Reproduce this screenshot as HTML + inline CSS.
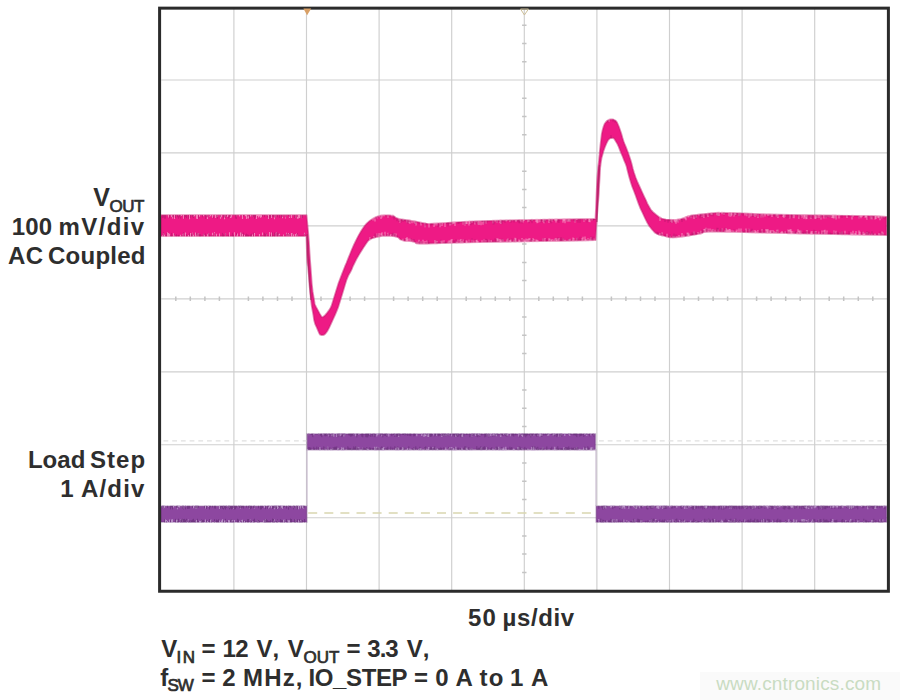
<!DOCTYPE html>
<html><head><meta charset="utf-8"><style>
html,body{margin:0;padding:0;background:#fff;width:900px;height:700px;overflow:hidden}
svg{display:block}
text{font-family:"Liberation Sans",sans-serif}
</style></head><body>
<svg width="900" height="700" viewBox="0 0 900 700">
<rect width="900" height="700" fill="#fff"/>
<rect x="700" y="672" width="200" height="28" fill="#fafafa"/>
<path d="M233.9 7.0V590.6M306.5 7.0V590.6M379.1 7.0V590.6M451.7 7.0V590.6M524.3 7.0V590.6M596.9 7.0V590.6M669.5 7.0V590.6M742.1 7.0V590.6M814.7 7.0V590.6M161.3 80.0H887.3M161.3 152.9H887.3M161.3 225.9H887.3M161.3 298.8H887.3M161.3 371.8H887.3M161.3 444.7H887.3M161.3 517.7H887.3" stroke="#cfcfcf" stroke-width="1.15" fill="none"/>
<path d="M175.8 296.6V301.0M190.3 296.6V301.0M204.9 296.6V301.0M219.4 296.6V301.0M248.4 296.6V301.0M262.9 296.6V301.0M277.5 296.6V301.0M292.0 296.6V301.0M321.0 296.6V301.0M335.5 296.6V301.0M350.1 296.6V301.0M364.6 296.6V301.0M393.6 296.6V301.0M408.1 296.6V301.0M422.7 296.6V301.0M437.2 296.6V301.0M466.2 296.6V301.0M480.7 296.6V301.0M495.3 296.6V301.0M509.8 296.6V301.0M538.8 296.6V301.0M553.3 296.6V301.0M567.9 296.6V301.0M582.4 296.6V301.0M611.4 296.6V301.0M625.9 296.6V301.0M640.5 296.6V301.0M655.0 296.6V301.0M684.0 296.6V301.0M698.5 296.6V301.0M713.1 296.6V301.0M727.6 296.6V301.0M756.6 296.6V301.0M771.1 296.6V301.0M785.7 296.6V301.0M800.2 296.6V301.0M829.2 296.6V301.0M843.7 296.6V301.0M858.3 296.6V301.0M872.8 296.6V301.0M522.1 25.3H526.5M522.1 43.5H526.5M522.1 61.8H526.5M522.1 98.2H526.5M522.1 116.5H526.5M522.1 134.7H526.5M522.1 171.2H526.5M522.1 189.4H526.5M522.1 207.6H526.5M522.1 244.1H526.5M522.1 262.4H526.5M522.1 280.6H526.5M522.1 317.1H526.5M522.1 335.3H526.5M522.1 353.5H526.5M522.1 390.0H526.5M522.1 408.2H526.5M522.1 426.5H526.5M522.1 462.9H526.5M522.1 481.2H526.5M522.1 499.4H526.5M522.1 535.9H526.5M522.1 554.1H526.5M522.1 572.4H526.5" stroke="#c4c4c4" stroke-width="1.5" fill="none"/>
<path d="M163.5 440.8H307M599 440.8H887" stroke="#e0e0e0" stroke-width="1.2" stroke-dasharray="4.8 3.9"/>
<path d="M308 513H596" stroke="#d9d6b0" stroke-width="1.3" stroke-dasharray="9 7.1" stroke-dashoffset="-0.2"/>
<path d="M161.0,215.2 L306.5,215.2 L308.0,230.8 L308.9,242.0 L309.6,254.0 L310.2,262.5 L310.6,267.5 L311.1,274.4 L311.7,283.1 L312.6,291.4 L313.9,299.1 L314.6,303.5 L314.9,304.5 L316.0,306.9 L318.0,310.6 L319.6,313.6 L320.9,315.7 L321.8,316.9 L322.5,317.2 L323.6,316.6 L325.2,315.2 L327.0,313.1 L329.0,310.4 L330.5,308.0 L331.5,306.0 L333.2,300.6 L335.8,291.9 L338.6,283.1 L341.9,274.4 L344.1,268.8 L345.1,266.2 L346.6,262.8 L348.4,258.2 L350.2,253.8 L352.0,249.3 L353.8,245.2 L355.6,241.4 L357.4,237.8 L359.1,234.6 L361.1,231.3 L363.2,228.0 L365.0,225.6 L366.3,224.0 L367.8,222.6 L369.2,221.3 L371.4,219.8 L374.3,218.0 L377.5,216.6 L381.1,215.7 L385.4,215.3 L390.5,215.5 L394.1,216.4 L396.4,218.2 L401.2,219.5 L408.8,220.5 L415.6,221.6 L421.9,222.9 L426.2,223.6 L428.8,223.9 L440.0,223.4 L460.0,222.1 L482.5,221.1 L507.5,220.4 L538.9,219.8 L595.5,219.0 L596.2,204.0 L596.6,194.2 L597.0,184.8 L597.4,177.5 L597.8,172.5 L598.2,167.5 L598.8,162.5 L599.2,158.1 L599.6,154.4 L599.9,150.6 L600.3,146.9 L600.7,143.2 L601.1,139.8 L601.5,136.6 L601.8,133.9 L602.5,130.6 L603.5,126.9 L604.6,124.1 L605.9,122.2 L607.1,120.9 L608.4,120.2 L609.6,119.6 L610.9,119.4 L612.1,119.4 L613.4,119.6 L614.6,120.2 L615.9,121.1 L616.9,122.3 L617.6,123.8 L618.8,126.5 L620.2,130.5 L621.5,134.4 L622.5,138.1 L623.5,141.2 L624.5,143.8 L625.8,146.9 L627.2,150.6 L628.5,154.0 L629.5,157.0 L630.5,160.1 L631.5,163.4 L632.2,166.2 L632.8,168.8 L633.9,172.5 L635.6,177.5 L637.6,182.5 L639.9,187.5 L642.0,192.1 L644.0,196.4 L645.8,200.1 L647.2,203.4 L648.9,206.5 L650.6,209.5 L653.0,212.2 L656.0,214.8 L658.9,216.9 L661.6,218.6 L666.0,219.6 L672.0,219.9 L676.9,219.8 L680.6,219.2 L683.9,218.2 L686.6,216.8 L692.2,215.5 L700.8,214.5 L708.8,213.6 L716.2,212.9 L735.0,213.1 L765.0,214.4 L802.5,215.2 L847.5,215.8 L874.1,216.2 L886.5,217.0 L886.5,235.0 L806.6,233.5 L765.0,232.6 L735.0,231.9 L716.2,231.5 L708.8,231.5 L704.0,232.0 L702.0,233.0 L695.8,234.4 L685.2,236.1 L677.5,237.1 L672.5,237.4 L668.8,237.1 L666.2,236.4 L662.9,235.5 L658.6,234.5 L655.5,233.0 L653.5,231.0 L651.5,228.8 L649.5,226.2 L647.4,222.8 L645.1,218.2 L642.8,213.2 L640.2,207.8 L638.4,203.1 L637.1,199.4 L635.6,195.2 L633.9,190.8 L632.2,186.4 L630.8,182.1 L629.4,177.5 L628.1,172.5 L627.2,169.0 L626.8,167.0 L625.8,164.1 L624.2,160.4 L622.9,157.0 L621.6,154.0 L620.2,150.6 L618.8,146.9 L617.5,144.1 L616.5,142.4 L615.4,140.5 L614.1,138.5 L612.4,137.8 L610.1,138.2 L608.1,140.1 L606.4,143.4 L604.9,146.9 L603.6,150.6 L602.5,154.4 L601.5,158.1 L600.8,162.5 L600.2,167.5 L599.9,172.5 L599.6,177.5 L599.2,184.8 L598.7,194.2 L597.9,204.8 L597.0,216.2 L596.2,226.5 L595.5,240.0 L561.4,240.8 L531.5,241.2 L494.5,241.8 L464.5,242.4 L441.5,243.1 L426.5,243.5 L419.5,243.5 L415.8,243.0 L415.2,242.0 L411.6,241.2 L404.9,240.8 L400.5,239.5 L398.5,237.5 L394.4,236.2 L388.1,235.7 L382.7,235.8 L378.0,236.7 L374.8,237.4 L372.9,238.0 L371.1,238.7 L369.5,239.6 L367.7,241.2 L365.9,243.8 L364.1,246.4 L362.3,249.3 L360.4,252.3 L358.5,255.4 L356.4,259.1 L354.3,263.3 L352.7,266.5 L351.8,268.9 L350.4,271.8 L348.4,275.2 L346.6,279.6 L344.9,284.9 L342.8,291.9 L340.2,300.6 L338.2,306.9 L336.8,310.6 L335.0,314.8 L333.0,319.2 L331.0,323.6 L329.0,327.9 L327.3,331.0 L325.9,333.0 L324.8,334.2 L323.9,334.8 L322.8,335.0 L321.2,335.0 L320.2,334.6 L319.6,333.9 L318.9,332.4 L317.9,330.1 L316.8,327.4 L315.2,324.1 L314.1,320.0 L313.4,315.0 L312.6,310.6 L311.9,306.9 L311.1,300.6 L310.2,291.9 L309.4,283.1 L308.8,274.4 L308.1,267.5 L307.5,262.5 L307.0,254.0 L306.5,236.0 L161.0,236.0 Z" fill="#ee1a85" stroke="#c8186e" stroke-width="1.8" stroke-opacity="0.5" stroke-linejoin="round"/>
<path d="M168.5 214.2v3.4M171.5 214.2v2.8M172.5 214.2v4.4M174.5 214.2v4.9M178.5 214.2v1.8M180.5 214.2v2.4M181.5 214.2v1.9M183.5 214.2v4.5M189.5 214.2v5.0M193.5 214.2v2.5M194.5 214.2v2.0M196.5 214.2v4.5M197.5 214.2v4.9M199.5 214.2v2.5M203.5 214.2v2.0M206.5 214.2v2.1M207.5 214.2v4.9M209.5 214.2v2.6M210.5 214.2v2.0M212.5 214.2v3.6M213.5 214.2v2.4M215.5 214.2v3.9M216.5 214.2v3.1M217.5 214.2v2.7M220.5 214.2v4.6M221.5 214.2v3.1M224.5 214.2v5.0M225.5 214.2v2.6M227.5 214.2v2.7M228.5 214.2v2.1M230.5 214.2v3.7M231.5 214.2v3.3M236.5 214.2v2.3M239.5 214.2v2.4M242.5 214.2v4.8M245.5 214.2v2.1M246.5 214.2v4.9M247.5 214.2v4.1M248.5 214.2v4.4M250.5 214.2v2.4M252.5 214.2v2.5M256.5 214.2v4.7M257.5 214.2v1.9M258.5 214.2v3.2M259.5 214.2v2.4M260.5 214.2v3.6M261.5 214.2v3.0M267.5 214.2v1.9M268.5 214.2v4.7M271.5 214.2v3.8M274.5 214.2v5.0M275.5 214.2v3.5M282.5 214.2v4.0M285.5 214.2v4.3M289.5 214.2v3.7M291.5 214.2v3.8M295.5 214.2v4.2M297.5 214.2v4.5M298.5 214.2v4.2M299.5 214.2v3.7M301.5 214.2v4.0M162.5 237.0v-1.8M163.5 237.0v-4.0M164.5 237.0v-2.3M167.5 237.0v-4.7M168.5 237.0v-3.9M169.5 237.0v-3.2M173.5 237.0v-3.7M174.5 237.0v-2.2M180.5 237.0v-2.3M182.5 237.0v-2.5M183.5 237.0v-3.8M185.5 237.0v-4.5M188.5 237.0v-1.9M190.5 237.0v-4.1M192.5 237.0v-4.3M193.5 237.0v-2.2M195.5 237.0v-4.5M196.5 237.0v-2.3M197.5 237.0v-3.8M198.5 237.0v-3.8M203.5 237.0v-3.3M204.5 237.0v-1.8M207.5 237.0v-2.7M208.5 237.0v-4.0M212.5 237.0v-4.3M214.5 237.0v-4.8M216.5 237.0v-3.3M219.5 237.0v-3.6M225.5 237.0v-4.1M229.5 237.0v-4.7M234.5 237.0v-4.7M236.5 237.0v-2.1M237.5 237.0v-3.6M240.5 237.0v-4.4M241.5 237.0v-4.4M242.5 237.0v-2.9M244.5 237.0v-2.3M252.5 237.0v-2.5M254.5 237.0v-4.1M259.5 237.0v-3.0M262.5 237.0v-4.5M266.5 237.0v-3.5M269.5 237.0v-4.9M271.5 237.0v-4.4M275.5 237.0v-3.5M276.5 237.0v-4.9M278.5 237.0v-3.3M279.5 237.0v-3.2M283.5 237.0v-2.4M286.5 237.0v-4.3M287.5 237.0v-2.4M288.5 237.0v-4.0M289.5 237.0v-2.9M291.5 237.0v-4.1M292.5 237.0v-3.4M293.5 237.0v-2.4M295.5 237.0v-3.0M296.5 237.0v-3.5M297.5 237.0v-2.5M304.5 237.0v-4.2M373.0 217.8v2.8M375.0 216.5v5.0M377.0 215.8v2.6M379.0 215.2v2.1M381.0 214.7v4.3M382.0 214.4v3.1M384.0 214.2v2.4M388.0 214.4v3.4M392.0 214.6v2.0M393.0 214.6v1.9M399.0 218.2v2.4M400.0 218.3v4.5M403.0 218.7v2.0M407.0 219.3v3.3M409.0 219.5v3.7M410.0 219.7v4.0M412.0 219.9v3.3M414.0 220.3v2.4M415.0 220.5v3.4M416.0 220.7v4.7M421.0 221.7v3.7M425.0 222.5v4.7M429.0 222.9v4.7M434.0 222.8v4.1M435.0 222.7v2.9M437.0 222.6v2.9M440.0 222.4v4.8M442.0 222.2v3.9M445.0 222.1v5.0M450.0 221.8v3.8M452.0 221.6v3.1M453.0 221.6v2.4M454.0 221.5v2.1M455.0 221.4v4.7M463.0 220.9v3.7M465.0 220.8v4.8M466.0 220.8v3.3M467.0 220.7v3.4M469.0 220.6v4.8M470.0 220.5v3.5M472.0 220.4v2.7M475.0 220.3v4.1M476.0 220.3v1.8M477.0 220.3v1.9M478.0 220.3v4.2M479.0 220.2v4.7M481.0 220.2v5.0M483.0 220.1v4.7M484.0 220.1v3.3M486.0 220.0v3.5M493.0 219.8v3.8M495.0 219.8v2.0M497.0 219.7v3.2M500.0 219.6v3.7M501.0 219.6v4.3M506.0 219.4v2.2M510.0 219.3v2.7M516.0 219.1v2.6M520.0 219.0v2.0M521.0 219.0v3.2M523.0 219.0v3.5M524.0 218.9v2.1M528.0 218.9v3.3M529.0 218.9v2.9M532.0 218.8v2.2M536.0 218.8v3.2M537.0 218.8v4.4M538.0 218.8v3.9M540.0 218.7v3.6M543.0 218.7v3.0M544.0 218.7v4.6M545.0 218.7v2.1M549.0 218.6v4.3M550.0 218.6v2.5M552.0 218.6v2.8M555.0 218.5v2.3M556.0 218.5v4.1M557.0 218.5v2.2M563.0 218.4v4.4M564.0 218.4v2.8M565.0 218.4v4.8M567.0 218.4v3.0M568.0 218.4v3.0M569.0 218.4v3.0M570.0 218.3v3.6M575.0 218.3v4.2M577.0 218.2v1.9M584.0 218.2v3.5M586.0 218.1v2.1M589.0 218.1v3.8M590.0 218.1v4.2M592.0 218.0v2.5M609.0 118.8v2.9M660.0 216.6v4.4M671.0 218.8v3.1M672.0 218.9v4.2M674.0 219.0v2.3M675.0 219.0v3.2M676.0 218.9v4.9M677.0 218.7v2.8M678.0 218.6v3.9M680.0 218.3v2.0M684.0 217.2v2.1M685.0 216.6v2.5M686.0 216.1v4.1M688.0 215.0v2.4M689.0 214.9v2.4M691.0 214.6v3.6M694.0 214.3v4.6M696.0 214.1v3.6M699.0 213.7v2.0M702.0 213.4v3.5M704.0 213.1v5.0M706.0 212.9v1.8M708.0 212.7v4.3M711.0 212.4v2.3M712.0 212.3v2.6M717.0 211.8v3.5M718.0 211.7v4.3M719.0 211.6v4.4M722.0 211.6v2.7M724.0 211.7v3.3M729.0 211.9v4.3M730.0 211.9v4.7M731.0 212.0v4.4M732.0 212.0v3.5M734.0 212.1v4.5M735.0 212.1v2.8M736.0 212.2v2.8M739.0 212.3v4.0M740.0 212.3v3.1M745.0 212.5v3.0M747.0 212.6v3.6M749.0 212.7v5.0M751.0 212.8v3.8M752.0 212.8v3.0M754.0 212.9v2.9M755.0 213.0v3.9M756.0 213.0v2.4M758.0 213.1v4.8M761.0 213.2v4.4M762.0 213.2v2.3M763.0 213.3v4.0M765.0 213.4v3.1M768.0 213.5v2.5M769.0 213.5v2.2M770.0 213.6v2.0M772.0 213.7v3.4M776.0 213.8v2.9M777.0 213.9v1.8M778.0 213.9v4.0M783.0 214.0v2.9M784.0 214.0v3.9M785.0 214.1v3.0M790.0 214.1v4.3M793.0 214.1v3.4M794.0 214.2v4.1M799.0 214.2v4.8M801.0 214.2v2.1M802.0 214.2v3.6M804.0 214.3v4.8M805.0 214.3v3.3M806.0 214.3v4.9M807.0 214.3v4.7M811.0 214.3v4.7M815.0 214.4v4.4M816.0 214.4v4.7M817.0 214.4v3.6M819.0 214.4v3.6M820.0 214.4v1.9M821.0 214.5v5.0M824.0 214.5v3.9M826.0 214.5v3.7M828.0 214.5v2.4M830.0 214.6v3.0M832.0 214.6v3.5M833.0 214.6v3.6M834.0 214.6v3.9M835.0 214.6v3.9M836.0 214.6v4.9M839.0 214.7v3.8M847.0 214.7v3.2M852.0 214.8v4.7M853.0 214.8v2.0M859.0 214.9v3.7M860.0 214.9v2.2M861.0 214.9v3.4M862.0 214.9v2.0M865.0 214.9v2.8M866.0 215.0v2.6M867.0 215.0v4.7M871.0 215.1v4.4M872.0 215.1v4.2M875.0 215.3v4.3M876.0 215.4v3.5M878.0 215.5v2.6M879.0 215.5v2.8M880.0 215.6v4.7M882.0 215.7v2.9M884.0 215.8v1.9M370.0 240.3v-3.4M374.0 238.7v-2.7M377.0 237.9v-4.5M378.0 237.7v-3.3M379.0 237.5v-4.6M381.0 237.1v-3.8M382.0 236.9v-4.6M383.0 236.8v-2.1M385.0 236.4v-4.7M388.0 236.7v-4.0M390.0 236.8v-2.1M391.0 236.9v-2.8M393.0 237.1v-2.4M394.0 237.2v-3.9M396.0 237.4v-3.9M403.0 241.6v-2.8M406.0 241.8v-3.8M407.0 241.9v-4.9M408.0 242.0v-3.5M410.0 242.1v-3.7M411.0 242.2v-2.6M413.0 242.4v-2.7M417.0 244.5v-2.7M419.0 244.5v-4.7M421.0 244.5v-3.3M423.0 244.5v-4.8M425.0 244.5v-3.6M427.0 244.5v-3.9M435.0 244.3v-4.3M436.0 244.3v-3.7M437.0 244.3v-3.2M441.0 244.1v-3.4M442.0 244.1v-3.7M444.0 244.0v-3.7M448.0 243.9v-2.3M449.0 243.9v-3.4M450.0 243.8v-3.2M451.0 243.8v-4.4M452.0 243.8v-4.7M456.0 243.7v-2.3M457.0 243.6v-1.9M458.0 243.6v-3.8M460.0 243.5v-3.7M461.0 243.5v-4.4M462.0 243.5v-2.6M463.0 243.4v-4.0M466.0 243.3v-3.1M467.0 243.3v-2.5M469.0 243.2v-3.4M472.0 243.1v-3.3M474.0 243.1v-2.6M476.0 243.0v-3.1M477.0 243.0v-3.2M478.0 243.0v-1.9M482.0 242.9v-2.6M484.0 242.9v-3.3M486.0 242.9v-2.9M489.0 242.8v-3.1M491.0 242.8v-2.9M497.0 242.7v-4.5M498.0 242.7v-4.3M499.0 242.7v-2.9M500.0 242.7v-3.6M501.0 242.7v-2.5M502.0 242.6v-3.3M503.0 242.6v-3.2M507.0 242.6v-3.0M508.0 242.6v-4.0M509.0 242.6v-2.7M510.0 242.5v-2.4M511.0 242.5v-3.1M514.0 242.5v-3.0M515.0 242.5v-4.8M516.0 242.5v-4.3M519.0 242.4v-2.8M520.0 242.4v-2.1M522.0 242.4v-4.3M524.0 242.4v-3.1M525.0 242.3v-1.9M526.0 242.3v-3.7M527.0 242.3v-2.8M528.0 242.3v-3.5M529.0 242.3v-4.1M530.0 242.3v-4.1M532.0 242.2v-2.5M533.0 242.2v-4.1M534.0 242.2v-3.0M536.0 242.2v-2.7M537.0 242.2v-2.5M538.0 242.2v-1.9M543.0 242.1v-3.9M545.0 242.1v-4.0M549.0 242.0v-3.8M550.0 242.0v-3.2M551.0 242.0v-2.0M552.0 242.0v-2.9M554.0 241.9v-2.3M555.0 241.9v-3.3M556.0 241.9v-3.9M557.0 241.8v-2.1M558.0 241.8v-3.2M559.0 241.8v-3.7M563.0 241.7v-3.1M564.0 241.7v-2.0M565.0 241.7v-2.0M569.0 241.6v-2.6M570.0 241.6v-2.9M573.0 241.5v-3.9M574.0 241.5v-3.3M577.0 241.4v-3.6M582.0 241.3v-3.1M583.0 241.3v-4.5M585.0 241.2v-4.7M586.0 241.2v-2.2M588.0 241.2v-3.0M590.0 241.1v-2.4M591.0 241.1v-4.0M592.0 241.1v-1.8M594.0 241.0v-2.6M660.0 235.8v-2.9M662.0 236.3v-4.1M667.0 237.6v-3.8M670.0 238.5v-2.7M673.0 238.3v-2.6M674.0 238.3v-2.4M676.0 238.2v-2.0M677.0 238.2v-2.1M679.0 238.1v-3.2M682.0 237.7v-4.6M684.0 237.3v-2.6M687.0 236.8v-4.1M688.0 236.7v-4.1M689.0 236.5v-2.9M694.0 235.7v-4.1M698.0 235.0v-3.0M700.0 234.7v-2.4M701.0 234.5v-3.7M704.0 233.0v-4.0M705.0 232.5v-3.8M706.0 232.5v-4.8M708.0 232.5v-4.1M709.0 232.5v-1.9M710.0 232.5v-4.1M712.0 232.5v-2.9M713.0 232.5v-3.5M715.0 232.5v-2.8M718.0 232.5v-3.1M722.0 232.6v-4.0M725.0 232.6v-2.4M726.0 232.7v-4.8M727.0 232.7v-3.4M728.0 232.7v-2.8M729.0 232.7v-3.6M730.0 232.8v-3.8M731.0 232.8v-2.5M733.0 232.8v-2.6M734.0 232.8v-2.0M736.0 232.9v-2.1M737.0 232.9v-3.3M739.0 233.0v-4.6M741.0 233.0v-4.4M742.0 233.1v-2.0M746.0 233.2v-4.8M749.0 233.2v-4.5M751.0 233.3v-1.9M752.0 233.3v-2.2M753.0 233.3v-2.9M755.0 233.4v-3.4M756.0 233.4v-2.5M758.0 233.4v-3.5M762.0 233.6v-4.4M766.0 233.7v-4.8M767.0 233.7v-4.1M768.0 233.7v-4.7M769.0 233.7v-3.6M770.0 233.8v-3.0M771.0 233.8v-3.9M773.0 233.8v-3.8M774.0 233.8v-2.7M776.0 233.9v-2.1M777.0 233.9v-4.2M778.0 233.9v-4.2M781.0 234.0v-2.1M782.0 234.0v-2.9M783.0 234.1v-1.8M785.0 234.1v-2.8M788.0 234.2v-4.6M789.0 234.2v-4.2M790.0 234.2v-5.0M791.0 234.2v-4.9M792.0 234.2v-3.1M794.0 234.3v-2.7M797.0 234.3v-2.4M798.0 234.3v-5.0M799.0 234.4v-3.8M800.0 234.4v-3.9M801.0 234.4v-3.8M807.0 234.5v-4.5M811.0 234.6v-3.0M812.0 234.6v-3.7M815.0 234.7v-3.8M816.0 234.7v-3.7M819.0 234.7v-3.3M822.0 234.8v-4.2M824.0 234.8v-4.6M825.0 234.8v-5.0M827.0 234.9v-4.5M834.0 235.0v-4.6M836.0 235.1v-4.4M840.0 235.1v-2.7M842.0 235.2v-3.6M845.0 235.2v-4.4M851.0 235.3v-3.0M852.0 235.4v-1.9M853.0 235.4v-4.6M855.0 235.4v-2.4M856.0 235.4v-4.5M859.0 235.5v-5.0M860.0 235.5v-3.8M863.0 235.6v-3.9M864.0 235.6v-1.8M865.0 235.6v-2.8M867.0 235.6v-3.7M869.0 235.7v-2.2M872.0 235.7v-2.2M875.0 235.8v-2.4M879.0 235.9v-2.8M880.0 235.9v-2.3M882.0 235.9v-4.4M883.0 235.9v-3.3" stroke="#f7a6cc" stroke-width="1.1" fill="none" opacity="0.7"/>
<path d="M162.5 215.0v3.1M163.5 215.0v2.7M164.5 215.0v3.6M165.5 215.0v3.6M169.5 215.0v3.2M172.5 215.0v2.3M173.5 215.0v2.3M175.5 215.0v3.1M177.5 215.0v2.2M178.5 215.0v3.7M179.5 215.0v2.3M180.5 215.0v3.5M184.5 215.0v3.7M185.5 215.0v2.1M186.5 215.0v3.2M188.5 215.0v3.7M190.5 215.0v2.9M192.5 215.0v2.4M193.5 215.0v3.0M198.5 215.0v3.5M202.5 215.0v2.4M205.5 215.0v4.0M206.5 215.0v2.1M207.5 215.0v2.2M209.5 215.0v1.5M213.5 215.0v3.4M216.5 215.0v2.4M217.5 215.0v3.6M220.5 215.0v2.1M223.5 215.0v3.4M224.5 215.0v2.5M225.5 215.0v2.7M226.5 215.0v1.3M228.5 215.0v3.3M229.5 215.0v2.2M230.5 215.0v1.7M235.5 215.0v3.6M236.5 215.0v3.9M243.5 215.0v1.5M247.5 215.0v2.6M248.5 215.0v1.3M249.5 215.0v3.9M252.5 215.0v2.2M253.5 215.0v1.8M254.5 215.0v3.8M255.5 215.0v2.5M262.5 215.0v1.9M264.5 215.0v2.1M267.5 215.0v2.3M269.5 215.0v3.5M270.5 215.0v2.6M272.5 215.0v1.7M273.5 215.0v2.1M274.5 215.0v2.5M275.5 215.0v3.2M277.5 215.0v2.2M279.5 215.0v2.8M281.5 215.0v2.8M282.5 215.0v1.9M285.5 215.0v2.5M288.5 215.0v1.3M289.5 215.0v1.8M294.5 215.0v3.0M295.5 215.0v4.0M297.5 215.0v2.0M301.5 215.0v3.3M302.5 215.0v2.9M163.5 236.2v-3.8M166.5 236.2v-3.2M171.5 236.2v-3.3M174.5 236.2v-2.3M176.5 236.2v-2.0M178.5 236.2v-1.3M182.5 236.2v-1.4M183.5 236.2v-3.9M186.5 236.2v-2.2M189.5 236.2v-3.6M191.5 236.2v-2.3M192.5 236.2v-3.0M196.5 236.2v-3.3M197.5 236.2v-3.2M198.5 236.2v-2.8M199.5 236.2v-2.0M200.5 236.2v-2.0M203.5 236.2v-2.7M205.5 236.2v-2.8M208.5 236.2v-3.1M209.5 236.2v-1.8M212.5 236.2v-1.2M214.5 236.2v-3.1M222.5 236.2v-3.3M223.5 236.2v-1.9M225.5 236.2v-3.1M228.5 236.2v-1.5M232.5 236.2v-3.4M233.5 236.2v-1.6M236.5 236.2v-3.3M241.5 236.2v-3.9M243.5 236.2v-3.6M245.5 236.2v-1.7M246.5 236.2v-2.6M247.5 236.2v-1.9M248.5 236.2v-1.4M250.5 236.2v-1.9M251.5 236.2v-2.5M253.5 236.2v-3.6M262.5 236.2v-1.2M264.5 236.2v-3.4M265.5 236.2v-2.4M266.5 236.2v-3.2M270.5 236.2v-1.7M272.5 236.2v-3.8M274.5 236.2v-3.7M275.5 236.2v-2.7M276.5 236.2v-4.0M277.5 236.2v-3.6M278.5 236.2v-3.0M279.5 236.2v-1.1M286.5 236.2v-2.6M287.5 236.2v-2.6M288.5 236.2v-2.5M289.5 236.2v-3.1M292.5 236.2v-2.5M296.5 236.2v-1.9M297.5 236.2v-3.1M304.5 236.2v-2.5M376.0 216.8v2.6M378.0 216.3v1.3M381.0 215.5v1.1M388.0 215.2v1.2M393.0 215.4v2.0M394.0 216.2v3.3M397.0 218.4v2.8M399.0 219.0v3.0M401.0 219.3v3.6M402.0 219.4v1.4M403.0 219.5v2.4M405.0 219.8v1.7M407.0 220.1v2.6M408.0 220.2v3.6M409.0 220.3v1.7M410.0 220.5v2.0M415.0 221.3v3.3M416.0 221.5v1.7M419.0 222.1v2.1M422.0 222.7v1.4M425.0 223.3v3.4M426.0 223.4v1.9M431.0 223.7v2.5M432.0 223.7v1.2M434.0 223.6v1.6M438.0 223.3v3.8M439.0 223.2v3.1M441.0 223.1v1.4M447.0 222.7v1.4M448.0 222.7v3.8M449.0 222.6v1.6M450.0 222.6v1.1M451.0 222.5v1.5M452.0 222.4v2.6M458.0 222.1v1.7M459.0 222.0v1.9M463.0 221.7v2.0M465.0 221.6v3.4M471.0 221.3v3.8M473.0 221.2v3.3M475.0 221.2v1.5M476.0 221.1v3.2M477.0 221.1v1.1M478.0 221.1v3.4M482.0 220.9v1.0M483.0 220.9v1.1M484.0 220.9v2.9M485.0 220.9v2.4M487.0 220.8v2.1M493.0 220.6v3.7M494.0 220.6v3.8M497.0 220.5v2.5M499.0 220.4v1.5M501.0 220.4v2.8M502.0 220.3v3.8M503.0 220.3v1.3M505.0 220.2v2.7M509.0 220.1v1.0M511.0 220.1v2.7M514.0 220.0v2.5M518.0 219.9v2.3M519.0 219.8v3.4M520.0 219.8v3.5M522.0 219.8v3.7M529.0 219.7v3.5M531.0 219.7v1.6M532.0 219.6v3.5M541.0 219.5v3.4M542.0 219.5v1.7M544.0 219.5v2.5M545.0 219.5v3.4M550.0 219.4v3.0M551.0 219.4v3.9M553.0 219.4v1.6M558.0 219.3v3.2M559.0 219.3v3.6M567.0 219.2v2.1M568.0 219.2v1.5M570.0 219.1v3.0M574.0 219.1v1.8M575.0 219.1v2.9M578.0 219.0v3.8M580.0 219.0v3.9M584.0 219.0v1.8M587.0 218.9v3.6M591.0 218.9v1.6M593.0 218.8v2.0M594.0 218.8v1.2M608.0 120.2v2.6M613.0 119.4v2.4M615.0 120.3v2.3M665.0 219.4v2.6M668.0 219.5v3.3M669.0 219.6v1.5M671.0 219.6v3.2M673.0 219.7v3.3M678.0 219.4v2.4M681.0 219.0v1.2M682.0 218.9v3.1M684.0 218.0v2.3M691.0 215.4v3.1M692.0 215.3v1.2M694.0 215.1v1.2M695.0 215.0v2.4M696.0 214.9v3.9M700.0 214.4v4.0M701.0 214.3v1.9M702.0 214.2v3.6M705.0 213.8v3.7M706.0 213.7v3.4M709.0 213.4v2.3M711.0 213.2v2.9M713.0 213.0v3.3M718.0 212.5v3.7M724.0 212.5v3.2M730.0 212.7v3.3M733.0 212.8v3.1M734.0 212.9v2.2M736.0 213.0v2.8M737.0 213.0v2.2M739.0 213.1v3.7M740.0 213.1v2.7M743.0 213.3v2.8M748.0 213.5v3.1M752.0 213.6v3.3M753.0 213.7v3.2M755.0 213.8v2.7M758.0 213.9v2.9M761.0 214.0v3.4M763.0 214.1v2.8M769.0 214.3v3.3M770.0 214.4v1.9M774.0 214.6v1.8M775.0 214.6v2.6M776.0 214.6v2.1M778.0 214.7v1.9M781.0 214.8v1.5M782.0 214.8v1.3M785.0 214.9v2.5M787.0 214.9v3.5M789.0 214.9v3.1M791.0 214.9v3.6M792.0 214.9v2.4M793.0 214.9v2.3M798.0 215.0v1.7M800.0 215.0v3.9M801.0 215.0v2.3M806.0 215.1v2.1M808.0 215.1v3.6M810.0 215.1v2.1M811.0 215.1v3.2M812.0 215.2v3.1M813.0 215.2v3.5M816.0 215.2v1.1M817.0 215.2v4.0M820.0 215.2v1.3M821.0 215.3v3.1M822.0 215.3v1.8M825.0 215.3v2.4M826.0 215.3v2.7M827.0 215.3v2.1M828.0 215.3v1.9M829.0 215.3v1.0M830.0 215.4v2.8M831.0 215.4v1.3M835.0 215.4v3.7M842.0 215.5v2.5M848.0 215.6v1.1M849.0 215.6v1.1M852.0 215.6v1.6M859.0 215.7v2.7M864.0 215.7v1.7M868.0 215.8v3.6M871.0 215.9v4.0M872.0 215.9v1.4M873.0 216.0v2.9M874.0 216.0v2.7M880.0 216.4v2.4M883.0 216.6v2.3M885.0 216.7v2.7M371.0 239.0v-1.7M373.0 238.2v-1.2M375.0 237.5v-3.9M377.0 237.1v-2.9M378.0 236.9v-3.4M381.0 236.3v-1.1M383.0 236.0v-1.6M384.0 235.8v-1.5M387.0 235.8v-1.8M389.0 236.0v-2.9M392.0 236.2v-2.7M393.0 236.3v-3.5M394.0 236.4v-3.1M395.0 236.5v-2.5M397.0 236.7v-1.8M404.0 240.9v-1.6M405.0 241.0v-1.9M411.0 241.4v-3.2M413.0 241.6v-2.5M414.0 241.6v-2.6M417.0 243.7v-1.1M419.0 243.7v-2.0M420.0 243.7v-2.8M422.0 243.7v-2.5M426.0 243.7v-1.6M428.0 243.7v-3.6M429.0 243.7v-1.6M436.0 243.5v-3.5M437.0 243.5v-1.5M438.0 243.4v-1.1M440.0 243.4v-1.3M441.0 243.3v-3.5M444.0 243.2v-1.3M445.0 243.2v-1.6M446.0 243.2v-1.6M448.0 243.1v-1.5M450.0 243.0v-1.4M453.0 242.9v-2.4M454.0 242.9v-2.8M455.0 242.9v-2.0M456.0 242.9v-3.7M458.0 242.8v-2.6M460.0 242.7v-2.2M462.0 242.7v-3.1M464.0 242.6v-1.9M465.0 242.6v-3.3M469.0 242.4v-2.2M472.0 242.3v-3.9M475.0 242.2v-2.8M484.0 242.1v-2.2M486.0 242.1v-3.3M487.0 242.1v-2.9M488.0 242.0v-2.0M490.0 242.0v-2.3M493.0 242.0v-2.1M495.0 241.9v-3.5M496.0 241.9v-2.7M497.0 241.9v-1.0M498.0 241.9v-1.0M499.0 241.9v-1.8M502.0 241.8v-3.1M503.0 241.8v-2.4M508.0 241.8v-2.2M509.0 241.8v-3.2M512.0 241.7v-3.3M514.0 241.7v-2.8M515.0 241.7v-1.1M517.0 241.6v-3.2M521.0 241.6v-1.3M522.0 241.6v-2.4M527.0 241.5v-1.3M529.0 241.5v-1.7M530.0 241.5v-1.5M531.0 241.5v-2.6M532.0 241.4v-2.8M534.0 241.4v-1.4M543.0 241.3v-3.3M546.0 241.3v-2.4M547.0 241.2v-2.8M550.0 241.2v-1.4M555.0 241.1v-2.4M558.0 241.0v-3.8M560.0 241.0v-2.4M561.0 241.0v-4.0M562.0 240.9v-2.2M563.0 240.9v-3.0M564.0 240.9v-1.4M569.0 240.8v-2.1M571.0 240.7v-1.0M574.0 240.7v-1.4M577.0 240.6v-3.0M578.0 240.6v-2.3M580.0 240.5v-3.8M581.0 240.5v-1.4M583.0 240.5v-1.1M588.0 240.4v-1.1M591.0 240.3v-3.8M592.0 240.3v-2.9M593.0 240.3v-3.8M611.0 138.3v-3.2M657.0 234.3v-2.5M658.0 234.6v-2.6M661.0 235.3v-2.7M662.0 235.5v-1.5M665.0 236.2v-2.3M669.0 237.4v-1.3M670.0 237.7v-3.5M673.0 237.5v-2.1M674.0 237.5v-3.9M676.0 237.4v-3.1M685.0 236.4v-2.2M686.0 236.2v-2.9M687.0 236.0v-2.1M692.0 235.2v-2.9M693.0 235.0v-1.9M694.0 234.9v-3.4M696.0 234.5v-2.1M697.0 234.4v-1.4M700.0 233.9v-1.8M702.0 233.2v-3.6M703.0 232.7v-2.4M704.0 232.2v-1.9M706.0 231.7v-3.2M707.0 231.7v-2.9M709.0 231.7v-1.6M710.0 231.7v-1.2M713.0 231.7v-2.4M715.0 231.7v-1.1M717.0 231.7v-3.9M718.0 231.7v-3.8M721.0 231.7v-3.4M722.0 231.8v-2.7M723.0 231.8v-1.3M725.0 231.8v-4.0M734.0 232.0v-2.6M742.0 232.2v-1.4M743.0 232.3v-1.5M745.0 232.3v-2.3M748.0 232.4v-3.3M749.0 232.4v-3.5M751.0 232.5v-2.6M752.0 232.5v-3.7M753.0 232.5v-1.8M759.0 232.7v-2.4M760.0 232.7v-3.0M761.0 232.7v-1.4M762.0 232.8v-2.6M764.0 232.8v-4.0M766.0 232.8v-1.5M769.0 232.9v-3.3M772.0 233.0v-1.4M773.0 233.0v-1.7M777.0 233.1v-2.1M778.0 233.1v-2.9M784.0 233.3v-2.4M787.0 233.3v-2.7M788.0 233.4v-1.1M789.0 233.4v-2.1M790.0 233.4v-1.2M794.0 233.5v-2.0M795.0 233.5v-1.9M796.0 233.5v-2.8M798.0 233.5v-1.5M799.0 233.6v-1.0M801.0 233.6v-3.2M803.0 233.6v-1.6M804.0 233.7v-3.3M806.0 233.7v-2.4M807.0 233.7v-2.4M809.0 233.7v-3.4M814.0 233.8v-4.0M815.0 233.9v-3.4M816.0 233.9v-1.9M820.0 234.0v-3.7M823.0 234.0v-1.9M824.0 234.0v-2.3M828.0 234.1v-1.7M830.0 234.1v-1.7M831.0 234.2v-1.2M834.0 234.2v-2.7M835.0 234.2v-1.1M837.0 234.3v-2.5M838.0 234.3v-1.8M839.0 234.3v-1.9M840.0 234.3v-1.3M841.0 234.3v-2.4M842.0 234.4v-3.6M843.0 234.4v-2.3M845.0 234.4v-1.3M849.0 234.5v-3.3M862.0 234.7v-3.3M866.0 234.8v-2.4M867.0 234.8v-3.8M868.0 234.9v-2.7M869.0 234.9v-3.3M872.0 234.9v-3.7M873.0 234.9v-1.7M877.0 235.0v-1.2M880.0 235.1v-3.8M882.0 235.1v-2.4M883.0 235.1v-1.3" stroke="#b0186a" stroke-width="1" fill="none" opacity="0.55"/>
<path d="M307.2,234 L308.2,260 L309.4,280 L311,300" stroke="#a82a62" stroke-width="1.3" fill="none" opacity="0.8"/>
<path d="M596.8,222 L598,190 L599.5,165" stroke="#a82a62" stroke-width="1.3" fill="none" opacity="0.8"/>
<path d="M161,506.2 H306.7 V522.0 H161 Z M307.3,434.0 H595.3 V449.6 H307.3 Z M596.3,506.2 H886.5 V522.0 H596.3 Z" fill="#8d47a0" stroke="#6e3580" stroke-width="1.6" stroke-opacity="0.45"/>
<path d="M162.5 505.2v2.8M163.5 505.2v3.3M164.5 505.2v2.5M173.5 505.2v2.3M177.5 505.2v4.0M178.5 505.2v1.8M179.5 505.2v2.3M182.5 505.2v2.3M183.5 505.2v3.5M185.5 505.2v2.0M193.5 505.2v3.0M195.5 505.2v3.2M196.5 505.2v3.9M197.5 505.2v2.3M205.5 505.2v3.4M208.5 505.2v1.9M219.5 505.2v3.8M223.5 505.2v2.8M226.5 505.2v1.8M228.5 505.2v2.3M229.5 505.2v2.7M233.5 505.2v3.7M238.5 505.2v2.0M240.5 505.2v3.3M249.5 505.2v3.2M254.5 505.2v3.6M264.5 505.2v2.5M268.5 505.2v3.3M269.5 505.2v2.5M271.5 505.2v3.1M274.5 505.2v4.0M275.5 505.2v3.0M276.5 505.2v1.8M277.5 505.2v3.8M278.5 505.2v2.9M280.5 505.2v3.0M281.5 505.2v2.6M282.5 505.2v3.6M288.5 505.2v2.1M293.5 505.2v3.0M296.5 505.2v3.9M298.5 505.2v4.0M300.5 505.2v3.3M301.5 505.2v2.3M302.5 505.2v3.1M303.5 505.2v3.3M165.5 523.0v-3.6M166.5 523.0v-3.1M167.5 523.0v-2.0M169.5 523.0v-3.4M171.5 523.0v-3.5M172.5 523.0v-3.8M176.5 523.0v-3.3M177.5 523.0v-3.0M180.5 523.0v-3.4M182.5 523.0v-3.5M186.5 523.0v-2.4M188.5 523.0v-3.5M190.5 523.0v-1.8M195.5 523.0v-2.2M196.5 523.0v-3.1M199.5 523.0v-2.3M200.5 523.0v-2.1M201.5 523.0v-2.9M205.5 523.0v-3.6M207.5 523.0v-1.9M210.5 523.0v-3.3M211.5 523.0v-3.3M214.5 523.0v-2.1M219.5 523.0v-2.6M221.5 523.0v-2.4M222.5 523.0v-3.7M224.5 523.0v-2.6M225.5 523.0v-2.8M228.5 523.0v-3.0M229.5 523.0v-2.8M231.5 523.0v-3.6M232.5 523.0v-2.7M234.5 523.0v-3.0M239.5 523.0v-2.2M241.5 523.0v-3.0M242.5 523.0v-3.3M244.5 523.0v-2.1M250.5 523.0v-3.4M252.5 523.0v-1.8M253.5 523.0v-2.0M257.5 523.0v-3.2M258.5 523.0v-2.1M263.5 523.0v-2.5M264.5 523.0v-2.9M265.5 523.0v-3.7M273.5 523.0v-2.6M274.5 523.0v-3.5M277.5 523.0v-2.7M283.5 523.0v-3.2M284.5 523.0v-3.3M287.5 523.0v-3.1M288.5 523.0v-2.8M289.5 523.0v-2.7M295.5 523.0v-3.5M298.5 523.0v-2.8M299.5 523.0v-2.1M300.5 523.0v-2.7M301.5 523.0v-3.6M308.8 433.0v2.4M313.8 433.0v2.2M318.8 433.0v1.9M322.8 433.0v2.3M323.8 433.0v1.9M326.8 433.0v1.8M328.8 433.0v3.2M331.8 433.0v3.1M332.8 433.0v3.5M333.8 433.0v3.7M336.8 433.0v3.9M338.8 433.0v3.2M339.8 433.0v2.0M340.8 433.0v3.1M341.8 433.0v2.0M343.8 433.0v3.5M344.8 433.0v2.6M353.8 433.0v2.6M355.8 433.0v3.2M358.8 433.0v1.9M369.8 433.0v2.1M373.8 433.0v3.1M376.8 433.0v3.5M377.8 433.0v2.3M378.8 433.0v2.2M379.8 433.0v2.0M381.8 433.0v3.2M386.8 433.0v2.8M388.8 433.0v3.4M394.8 433.0v2.6M398.8 433.0v3.9M404.8 433.0v1.8M416.8 433.0v3.3M421.8 433.0v2.9M423.8 433.0v3.8M424.8 433.0v3.4M425.8 433.0v2.9M427.8 433.0v3.7M428.8 433.0v4.0M433.8 433.0v2.6M436.8 433.0v3.0M441.8 433.0v3.9M443.8 433.0v3.0M445.8 433.0v3.2M447.8 433.0v2.2M448.8 433.0v2.8M451.8 433.0v3.2M455.8 433.0v3.9M457.8 433.0v2.4M461.8 433.0v3.7M462.8 433.0v3.7M471.8 433.0v4.0M472.8 433.0v1.9M474.8 433.0v1.9M475.8 433.0v2.9M477.8 433.0v2.2M478.8 433.0v1.9M479.8 433.0v2.9M486.8 433.0v2.6M488.8 433.0v3.8M490.8 433.0v2.9M492.8 433.0v3.1M493.8 433.0v2.3M494.8 433.0v2.9M496.8 433.0v3.3M500.8 433.0v4.0M503.8 433.0v2.0M505.8 433.0v1.9M506.8 433.0v3.0M507.8 433.0v2.4M510.8 433.0v3.3M518.8 433.0v3.5M519.8 433.0v2.1M521.8 433.0v3.0M522.8 433.0v3.9M530.8 433.0v3.2M533.8 433.0v3.0M537.8 433.0v2.9M539.8 433.0v3.4M540.8 433.0v2.7M541.8 433.0v3.1M547.8 433.0v2.9M548.8 433.0v2.5M552.8 433.0v3.2M553.8 433.0v2.3M554.8 433.0v1.9M558.8 433.0v3.4M560.8 433.0v3.5M561.8 433.0v2.3M564.8 433.0v2.9M568.8 433.0v1.9M569.8 433.0v3.0M584.8 433.0v2.0M586.8 433.0v3.1M590.8 433.0v2.5M593.8 433.0v2.5M319.8 450.6v-3.6M324.8 450.6v-2.4M327.8 450.6v-3.8M330.8 450.6v-1.8M332.8 450.6v-2.5M337.8 450.6v-2.9M338.8 450.6v-2.6M341.8 450.6v-3.3M342.8 450.6v-2.4M343.8 450.6v-3.1M351.8 450.6v-2.4M356.8 450.6v-3.9M358.8 450.6v-3.5M362.8 450.6v-2.8M366.8 450.6v-2.4M367.8 450.6v-1.9M374.8 450.6v-3.8M375.8 450.6v-3.7M376.8 450.6v-3.9M378.8 450.6v-3.4M379.8 450.6v-2.6M381.8 450.6v-2.6M382.8 450.6v-2.7M383.8 450.6v-3.6M395.8 450.6v-2.6M396.8 450.6v-3.2M397.8 450.6v-3.5M398.8 450.6v-2.7M402.8 450.6v-3.3M403.8 450.6v-3.2M407.8 450.6v-2.5M409.8 450.6v-2.3M413.8 450.6v-2.5M418.8 450.6v-1.9M419.8 450.6v-2.5M420.8 450.6v-2.4M421.8 450.6v-1.9M424.8 450.6v-2.0M426.8 450.6v-2.1M428.8 450.6v-3.5M432.8 450.6v-3.6M435.8 450.6v-2.8M437.8 450.6v-2.0M445.8 450.6v-3.2M448.8 450.6v-2.4M449.8 450.6v-3.5M451.8 450.6v-3.5M453.8 450.6v-2.7M454.8 450.6v-1.9M455.8 450.6v-3.9M461.8 450.6v-2.8M465.8 450.6v-3.2M466.8 450.6v-2.9M469.8 450.6v-2.3M471.8 450.6v-2.8M480.8 450.6v-2.8M481.8 450.6v-3.0M486.8 450.6v-3.3M492.8 450.6v-2.2M495.8 450.6v-3.2M498.8 450.6v-3.9M499.8 450.6v-2.9M501.8 450.6v-2.4M502.8 450.6v-2.2M503.8 450.6v-3.2M505.8 450.6v-3.9M513.8 450.6v-2.0M517.8 450.6v-3.4M518.8 450.6v-3.6M521.8 450.6v-2.6M523.8 450.6v-1.9M527.8 450.6v-2.0M531.8 450.6v-3.5M532.8 450.6v-2.2M533.8 450.6v-3.9M534.8 450.6v-2.2M537.8 450.6v-2.0M542.8 450.6v-3.4M554.8 450.6v-3.8M556.8 450.6v-1.9M563.8 450.6v-3.3M565.8 450.6v-2.4M569.8 450.6v-1.9M574.8 450.6v-2.4M576.8 450.6v-3.6M577.8 450.6v-1.8M579.8 450.6v-1.9M583.8 450.6v-3.0M585.8 450.6v-2.3M586.8 450.6v-2.9M590.8 450.6v-3.1M591.8 450.6v-3.4M592.8 450.6v-3.1M603.8 505.2v3.2M604.8 505.2v2.2M605.8 505.2v3.2M610.8 505.2v2.5M611.8 505.2v2.0M613.8 505.2v1.8M619.8 505.2v2.8M621.8 505.2v3.8M622.8 505.2v3.3M623.8 505.2v2.0M624.8 505.2v3.5M628.8 505.2v3.5M633.8 505.2v2.1M634.8 505.2v2.8M635.8 505.2v3.9M636.8 505.2v3.5M637.8 505.2v2.0M639.8 505.2v3.1M642.8 505.2v2.1M647.8 505.2v2.7M651.8 505.2v2.8M652.8 505.2v2.9M653.8 505.2v2.1M656.8 505.2v3.1M657.8 505.2v3.3M658.8 505.2v3.7M660.8 505.2v2.4M662.8 505.2v3.8M663.8 505.2v2.7M664.8 505.2v2.8M666.8 505.2v2.2M669.8 505.2v2.3M671.8 505.2v1.9M676.8 505.2v2.5M681.8 505.2v2.3M682.8 505.2v1.9M684.8 505.2v3.7M686.8 505.2v3.9M688.8 505.2v2.6M690.8 505.2v1.9M691.8 505.2v1.8M694.8 505.2v3.8M704.8 505.2v2.7M705.8 505.2v3.4M706.8 505.2v2.9M720.8 505.2v2.2M722.8 505.2v3.4M724.8 505.2v2.3M729.8 505.2v3.3M731.8 505.2v3.2M743.8 505.2v2.3M744.8 505.2v3.6M746.8 505.2v2.9M752.8 505.2v3.9M753.8 505.2v3.2M755.8 505.2v2.5M759.8 505.2v3.2M763.8 505.2v2.0M764.8 505.2v2.4M766.8 505.2v2.1M767.8 505.2v3.3M769.8 505.2v2.9M774.8 505.2v3.7M777.8 505.2v2.9M779.8 505.2v2.0M782.8 505.2v2.2M787.8 505.2v2.2M790.8 505.2v2.0M791.8 505.2v2.7M792.8 505.2v2.2M793.8 505.2v3.2M797.8 505.2v3.2M804.8 505.2v2.8M805.8 505.2v3.0M806.8 505.2v3.3M808.8 505.2v3.8M809.8 505.2v2.4M811.8 505.2v3.5M813.8 505.2v3.2M814.8 505.2v3.0M815.8 505.2v2.4M820.8 505.2v2.6M821.8 505.2v3.4M823.8 505.2v2.2M830.8 505.2v2.7M832.8 505.2v2.8M833.8 505.2v2.4M834.8 505.2v2.2M836.8 505.2v2.3M837.8 505.2v2.2M841.8 505.2v2.2M842.8 505.2v2.9M846.8 505.2v1.9M847.8 505.2v2.7M848.8 505.2v2.6M849.8 505.2v3.7M850.8 505.2v2.5M851.8 505.2v3.7M852.8 505.2v2.8M853.8 505.2v2.3M861.8 505.2v1.9M867.8 505.2v4.0M869.8 505.2v2.3M874.8 505.2v3.9M875.8 505.2v3.5M883.8 505.2v2.6M884.8 505.2v1.9M598.8 523.0v-3.9M601.8 523.0v-2.4M603.8 523.0v-2.0M606.8 523.0v-2.6M611.8 523.0v-3.5M612.8 523.0v-3.8M614.8 523.0v-3.6M616.8 523.0v-3.7M623.8 523.0v-3.6M626.8 523.0v-3.1M628.8 523.0v-1.8M632.8 523.0v-2.8M634.8 523.0v-3.4M640.8 523.0v-2.7M641.8 523.0v-2.9M649.8 523.0v-2.7M651.8 523.0v-3.8M653.8 523.0v-2.0M655.8 523.0v-3.9M658.8 523.0v-1.9M665.8 523.0v-2.3M667.8 523.0v-2.5M669.8 523.0v-3.5M670.8 523.0v-3.0M672.8 523.0v-3.4M675.8 523.0v-2.5M679.8 523.0v-3.0M681.8 523.0v-2.3M683.8 523.0v-2.0M684.8 523.0v-3.2M690.8 523.0v-2.6M695.8 523.0v-2.0M696.8 523.0v-2.3M701.8 523.0v-2.3M702.8 523.0v-2.6M706.8 523.0v-2.6M708.8 523.0v-3.4M711.8 523.0v-2.6M714.8 523.0v-4.0M720.8 523.0v-2.4M721.8 523.0v-3.3M722.8 523.0v-2.1M728.8 523.0v-2.9M729.8 523.0v-2.9M730.8 523.0v-2.1M731.8 523.0v-2.6M733.8 523.0v-2.0M734.8 523.0v-3.9M737.8 523.0v-2.2M739.8 523.0v-2.1M744.8 523.0v-3.4M755.8 523.0v-2.8M761.8 523.0v-3.3M763.8 523.0v-3.9M766.8 523.0v-2.5M767.8 523.0v-2.3M772.8 523.0v-2.4M785.8 523.0v-1.9M788.8 523.0v-3.7M790.8 523.0v-2.1M793.8 523.0v-3.8M794.8 523.0v-3.6M796.8 523.0v-3.3M801.8 523.0v-3.7M802.8 523.0v-3.8M803.8 523.0v-3.8M804.8 523.0v-3.4M806.8 523.0v-3.1M808.8 523.0v-3.6M811.8 523.0v-2.2M812.8 523.0v-3.6M813.8 523.0v-1.8M818.8 523.0v-3.4M822.8 523.0v-2.8M831.8 523.0v-2.1M832.8 523.0v-3.9M845.8 523.0v-3.1M849.8 523.0v-2.6M850.8 523.0v-3.9M857.8 523.0v-2.6M858.8 523.0v-2.7M863.8 523.0v-2.2M871.8 523.0v-2.9M872.8 523.0v-3.1M879.8 523.0v-3.4M880.8 523.0v-2.6M882.8 523.0v-3.7" stroke="#c9acd6" stroke-width="1.1" fill="none" opacity="0.7"/>
<path d="M162.5 505.8v2.4M163.5 505.8v2.7M167.5 505.8v2.2M170.5 505.8v3.6M171.5 505.8v1.4M172.5 505.8v3.6M176.5 505.8v2.0M177.5 505.8v2.4M182.5 505.8v2.7M183.5 505.8v3.6M185.5 505.8v3.5M187.5 505.8v3.1M188.5 505.8v3.0M189.5 505.8v2.8M192.5 505.8v2.2M195.5 505.8v2.5M196.5 505.8v2.9M197.5 505.8v2.0M198.5 505.8v1.9M204.5 505.8v2.3M206.5 505.8v3.2M209.5 505.8v3.6M210.5 505.8v1.5M212.5 505.8v1.7M214.5 505.8v2.6M215.5 505.8v2.8M220.5 505.8v2.9M221.5 505.8v1.4M222.5 505.8v3.0M223.5 505.8v3.7M224.5 505.8v2.5M225.5 505.8v3.7M226.5 505.8v1.9M228.5 505.8v2.1M229.5 505.8v3.6M230.5 505.8v2.7M231.5 505.8v3.6M232.5 505.8v3.0M233.5 505.8v2.6M234.5 505.8v3.7M235.5 505.8v3.4M236.5 505.8v1.8M238.5 505.8v1.3M239.5 505.8v2.1M240.5 505.8v2.2M241.5 505.8v2.4M242.5 505.8v1.7M243.5 505.8v2.7M246.5 505.8v1.8M248.5 505.8v2.0M249.5 505.8v2.3M250.5 505.8v3.4M251.5 505.8v2.6M253.5 505.8v2.3M254.5 505.8v2.6M258.5 505.8v2.4M260.5 505.8v3.7M261.5 505.8v3.5M262.5 505.8v2.2M265.5 505.8v3.4M267.5 505.8v3.0M268.5 505.8v1.5M272.5 505.8v3.2M273.5 505.8v2.5M274.5 505.8v2.5M275.5 505.8v2.6M276.5 505.8v3.2M278.5 505.8v1.7M279.5 505.8v2.0M280.5 505.8v2.5M283.5 505.8v2.0M284.5 505.8v1.2M286.5 505.8v2.7M288.5 505.8v3.8M289.5 505.8v1.2M290.5 505.8v1.8M293.5 505.8v3.5M294.5 505.8v1.8M296.5 505.8v3.3M297.5 505.8v3.5M301.5 505.8v2.7M303.5 505.8v2.1M304.5 505.8v1.9M164.5 522.4v-3.0M166.5 522.4v-1.2M170.5 522.4v-2.3M175.5 522.4v-3.5M177.5 522.4v-2.0M178.5 522.4v-3.7M180.5 522.4v-2.6M181.5 522.4v-2.8M182.5 522.4v-3.6M183.5 522.4v-3.4M184.5 522.4v-3.5M185.5 522.4v-2.6M186.5 522.4v-3.6M188.5 522.4v-2.1M189.5 522.4v-1.9M190.5 522.4v-1.9M191.5 522.4v-2.1M192.5 522.4v-2.9M193.5 522.4v-3.6M194.5 522.4v-1.9M195.5 522.4v-2.0M197.5 522.4v-3.6M198.5 522.4v-1.3M201.5 522.4v-2.9M202.5 522.4v-2.5M203.5 522.4v-2.6M206.5 522.4v-2.7M209.5 522.4v-3.4M211.5 522.4v-2.3M214.5 522.4v-3.2M216.5 522.4v-2.9M217.5 522.4v-2.2M218.5 522.4v-3.1M223.5 522.4v-2.0M225.5 522.4v-3.5M227.5 522.4v-1.7M230.5 522.4v-2.6M231.5 522.4v-3.4M232.5 522.4v-1.2M233.5 522.4v-1.2M237.5 522.4v-3.6M238.5 522.4v-2.9M241.5 522.4v-1.8M243.5 522.4v-2.2M245.5 522.4v-1.6M247.5 522.4v-3.3M248.5 522.4v-3.4M250.5 522.4v-2.6M251.5 522.4v-1.5M253.5 522.4v-2.8M254.5 522.4v-3.7M257.5 522.4v-2.9M258.5 522.4v-2.4M259.5 522.4v-1.6M264.5 522.4v-2.6M265.5 522.4v-2.9M266.5 522.4v-3.2M267.5 522.4v-2.2M268.5 522.4v-1.3M269.5 522.4v-1.2M270.5 522.4v-2.2M272.5 522.4v-3.8M273.5 522.4v-3.4M274.5 522.4v-1.8M276.5 522.4v-1.2M277.5 522.4v-3.0M280.5 522.4v-3.2M281.5 522.4v-2.5M282.5 522.4v-2.3M284.5 522.4v-2.3M286.5 522.4v-3.3M287.5 522.4v-2.1M290.5 522.4v-3.8M291.5 522.4v-3.4M294.5 522.4v-3.1M295.5 522.4v-2.9M297.5 522.4v-3.1M299.5 522.4v-3.2M300.5 522.4v-1.5M301.5 522.4v-3.2M302.5 522.4v-2.4M304.5 522.4v-3.4M308.8 433.6v2.1M311.8 433.6v1.6M312.8 433.6v3.5M318.8 433.6v1.6M320.8 433.6v2.6M321.8 433.6v3.6M323.8 433.6v1.4M324.8 433.6v2.6M325.8 433.6v2.7M326.8 433.6v2.1M328.8 433.6v1.7M329.8 433.6v3.6M331.8 433.6v2.1M332.8 433.6v3.5M337.8 433.6v3.6M338.8 433.6v3.1M339.8 433.6v1.3M341.8 433.6v3.5M342.8 433.6v2.9M343.8 433.6v1.3M344.8 433.6v2.0M348.8 433.6v1.7M349.8 433.6v2.0M350.8 433.6v3.2M351.8 433.6v2.6M352.8 433.6v2.0M353.8 433.6v2.4M356.8 433.6v3.8M357.8 433.6v1.7M361.8 433.6v3.1M362.8 433.6v3.7M365.8 433.6v3.6M366.8 433.6v3.7M367.8 433.6v3.7M368.8 433.6v2.5M370.8 433.6v3.4M372.8 433.6v3.0M373.8 433.6v2.3M374.8 433.6v3.6M378.8 433.6v2.0M379.8 433.6v1.4M380.8 433.6v2.2M381.8 433.6v1.4M382.8 433.6v3.7M384.8 433.6v2.4M385.8 433.6v2.5M386.8 433.6v3.1M391.8 433.6v2.6M393.8 433.6v1.4M394.8 433.6v3.3M396.8 433.6v3.3M397.8 433.6v2.5M398.8 433.6v2.0M399.8 433.6v2.8M402.8 433.6v1.4M403.8 433.6v1.4M404.8 433.6v1.7M405.8 433.6v1.6M407.8 433.6v2.4M409.8 433.6v2.5M410.8 433.6v2.5M413.8 433.6v2.8M414.8 433.6v2.5M423.8 433.6v1.7M425.8 433.6v1.3M427.8 433.6v1.9M429.8 433.6v3.3M430.8 433.6v3.3M431.8 433.6v2.7M434.8 433.6v2.9M435.8 433.6v1.8M437.8 433.6v2.3M438.8 433.6v2.7M439.8 433.6v2.1M441.8 433.6v2.5M442.8 433.6v1.9M443.8 433.6v2.8M444.8 433.6v1.7M445.8 433.6v3.1M447.8 433.6v2.0M448.8 433.6v2.6M450.8 433.6v1.6M452.8 433.6v2.9M453.8 433.6v1.5M454.8 433.6v3.4M455.8 433.6v1.3M456.8 433.6v2.8M457.8 433.6v3.4M458.8 433.6v2.6M460.8 433.6v3.8M461.8 433.6v1.5M463.8 433.6v3.0M466.8 433.6v1.4M469.8 433.6v3.6M471.8 433.6v3.5M472.8 433.6v2.0M473.8 433.6v1.7M474.8 433.6v1.3M476.8 433.6v3.0M477.8 433.6v3.6M479.8 433.6v3.2M481.8 433.6v1.7M484.8 433.6v3.8M485.8 433.6v3.1M486.8 433.6v2.1M488.8 433.6v3.8M492.8 433.6v3.2M494.8 433.6v2.7M496.8 433.6v1.3M497.8 433.6v2.6M500.8 433.6v1.6M501.8 433.6v1.6M502.8 433.6v2.5M504.8 433.6v1.7M505.8 433.6v2.6M506.8 433.6v2.9M511.8 433.6v2.6M512.8 433.6v1.9M513.8 433.6v3.0M515.8 433.6v1.8M519.8 433.6v3.7M521.8 433.6v1.5M522.8 433.6v1.3M523.8 433.6v3.2M524.8 433.6v1.7M525.8 433.6v3.7M526.8 433.6v2.3M527.8 433.6v1.3M529.8 433.6v2.0M530.8 433.6v3.8M531.8 433.6v2.0M532.8 433.6v2.0M533.8 433.6v2.0M535.8 433.6v1.8M536.8 433.6v3.2M537.8 433.6v1.9M541.8 433.6v3.4M543.8 433.6v1.9M545.8 433.6v1.7M547.8 433.6v1.7M551.8 433.6v1.3M552.8 433.6v2.9M554.8 433.6v2.9M556.8 433.6v3.5M557.8 433.6v2.2M559.8 433.6v2.8M560.8 433.6v2.8M561.8 433.6v3.3M568.8 433.6v1.2M570.8 433.6v1.3M573.8 433.6v1.7M574.8 433.6v1.6M575.8 433.6v2.1M576.8 433.6v3.5M579.8 433.6v3.0M580.8 433.6v2.4M581.8 433.6v2.0M583.8 433.6v3.3M586.8 433.6v1.5M589.8 433.6v2.9M592.8 433.6v1.7M593.8 433.6v3.0M308.8 450.0v-3.0M309.8 450.0v-2.9M310.8 450.0v-2.3M313.8 450.0v-3.2M314.8 450.0v-1.7M316.8 450.0v-3.4M318.8 450.0v-3.0M321.8 450.0v-2.2M323.8 450.0v-3.6M324.8 450.0v-2.3M327.8 450.0v-2.9M329.8 450.0v-2.7M332.8 450.0v-2.2M333.8 450.0v-2.8M334.8 450.0v-3.2M335.8 450.0v-3.2M336.8 450.0v-3.5M338.8 450.0v-1.5M339.8 450.0v-1.7M342.8 450.0v-1.2M344.8 450.0v-2.6M347.8 450.0v-3.7M348.8 450.0v-2.4M349.8 450.0v-1.8M350.8 450.0v-1.9M351.8 450.0v-1.9M352.8 450.0v-1.5M353.8 450.0v-3.6M354.8 450.0v-2.4M355.8 450.0v-3.8M356.8 450.0v-3.2M357.8 450.0v-1.9M358.8 450.0v-2.4M362.8 450.0v-2.0M363.8 450.0v-2.5M364.8 450.0v-1.5M365.8 450.0v-1.4M366.8 450.0v-2.9M369.8 450.0v-2.8M370.8 450.0v-1.9M372.8 450.0v-2.0M373.8 450.0v-1.8M375.8 450.0v-3.1M376.8 450.0v-1.9M377.8 450.0v-2.5M378.8 450.0v-2.5M379.8 450.0v-2.2M380.8 450.0v-2.4M381.8 450.0v-3.6M384.8 450.0v-2.0M386.8 450.0v-2.2M387.8 450.0v-3.3M390.8 450.0v-3.4M392.8 450.0v-2.4M394.8 450.0v-3.7M396.8 450.0v-2.6M397.8 450.0v-3.5M399.8 450.0v-2.2M400.8 450.0v-2.9M403.8 450.0v-2.9M404.8 450.0v-2.4M408.8 450.0v-3.6M412.8 450.0v-1.7M413.8 450.0v-2.6M415.8 450.0v-3.6M417.8 450.0v-1.3M419.8 450.0v-3.2M421.8 450.0v-1.2M424.8 450.0v-2.9M425.8 450.0v-3.6M429.8 450.0v-1.7M430.8 450.0v-3.4M431.8 450.0v-2.6M432.8 450.0v-1.6M433.8 450.0v-2.0M434.8 450.0v-3.6M435.8 450.0v-1.8M438.8 450.0v-2.0M439.8 450.0v-1.4M440.8 450.0v-2.6M441.8 450.0v-1.8M443.8 450.0v-2.7M448.8 450.0v-3.1M449.8 450.0v-1.5M450.8 450.0v-1.5M451.8 450.0v-1.8M454.8 450.0v-2.6M457.8 450.0v-2.4M458.8 450.0v-2.4M460.8 450.0v-2.0M463.8 450.0v-2.2M464.8 450.0v-3.6M465.8 450.0v-3.5M468.8 450.0v-2.9M469.8 450.0v-1.8M471.8 450.0v-2.5M476.8 450.0v-3.8M477.8 450.0v-1.3M478.8 450.0v-2.3M479.8 450.0v-2.3M480.8 450.0v-3.6M481.8 450.0v-1.9M482.8 450.0v-2.7M483.8 450.0v-3.3M484.8 450.0v-3.6M487.8 450.0v-3.0M490.8 450.0v-1.9M491.8 450.0v-2.9M495.8 450.0v-3.1M496.8 450.0v-3.3M497.8 450.0v-2.4M499.8 450.0v-2.7M501.8 450.0v-3.1M507.8 450.0v-2.3M509.8 450.0v-3.3M510.8 450.0v-2.3M511.8 450.0v-3.0M515.8 450.0v-1.2M516.8 450.0v-1.4M517.8 450.0v-1.4M518.8 450.0v-3.2M519.8 450.0v-3.5M520.8 450.0v-2.5M521.8 450.0v-1.5M523.8 450.0v-1.6M524.8 450.0v-3.1M526.8 450.0v-1.8M532.8 450.0v-3.8M534.8 450.0v-3.7M536.8 450.0v-2.4M537.8 450.0v-3.2M538.8 450.0v-1.4M540.8 450.0v-1.7M542.8 450.0v-2.8M543.8 450.0v-1.5M546.8 450.0v-3.5M550.8 450.0v-2.0M551.8 450.0v-3.3M556.8 450.0v-2.3M557.8 450.0v-3.8M558.8 450.0v-1.7M560.8 450.0v-1.7M561.8 450.0v-1.8M562.8 450.0v-1.3M564.8 450.0v-2.0M565.8 450.0v-3.0M566.8 450.0v-2.6M567.8 450.0v-2.7M568.8 450.0v-3.6M569.8 450.0v-2.0M571.8 450.0v-2.5M572.8 450.0v-2.0M573.8 450.0v-2.5M574.8 450.0v-1.2M575.8 450.0v-2.2M576.8 450.0v-3.0M577.8 450.0v-2.8M584.8 450.0v-3.4M585.8 450.0v-1.3M587.8 450.0v-3.7M588.8 450.0v-2.4M592.8 450.0v-2.3M598.8 505.8v3.0M601.8 505.8v1.9M602.8 505.8v3.8M603.8 505.8v1.8M604.8 505.8v3.3M606.8 505.8v1.5M612.8 505.8v3.3M614.8 505.8v2.2M619.8 505.8v3.5M621.8 505.8v3.6M625.8 505.8v1.6M627.8 505.8v2.1M630.8 505.8v2.3M634.8 505.8v1.8M635.8 505.8v2.8M637.8 505.8v3.1M640.8 505.8v2.3M641.8 505.8v2.6M646.8 505.8v3.4M647.8 505.8v3.7M649.8 505.8v1.3M650.8 505.8v3.0M651.8 505.8v2.8M652.8 505.8v2.7M653.8 505.8v1.7M655.8 505.8v1.5M661.8 505.8v1.6M663.8 505.8v3.4M664.8 505.8v2.8M665.8 505.8v3.2M666.8 505.8v2.5M671.8 505.8v2.9M672.8 505.8v2.5M674.8 505.8v2.2M680.8 505.8v2.5M681.8 505.8v3.3M683.8 505.8v1.2M686.8 505.8v2.8M687.8 505.8v2.2M691.8 505.8v2.5M692.8 505.8v3.8M693.8 505.8v3.6M695.8 505.8v3.2M696.8 505.8v2.5M698.8 505.8v2.7M700.8 505.8v2.6M701.8 505.8v1.6M702.8 505.8v3.6M704.8 505.8v3.3M707.8 505.8v2.6M708.8 505.8v1.4M710.8 505.8v2.2M712.8 505.8v3.6M713.8 505.8v1.6M714.8 505.8v2.9M718.8 505.8v3.8M719.8 505.8v2.4M720.8 505.8v1.3M721.8 505.8v3.8M723.8 505.8v3.8M725.8 505.8v2.8M726.8 505.8v1.9M728.8 505.8v2.1M729.8 505.8v2.0M730.8 505.8v1.5M731.8 505.8v2.3M732.8 505.8v3.6M733.8 505.8v2.2M734.8 505.8v3.3M735.8 505.8v1.4M736.8 505.8v3.6M738.8 505.8v2.7M739.8 505.8v3.5M741.8 505.8v3.4M742.8 505.8v2.5M743.8 505.8v2.7M744.8 505.8v2.6M745.8 505.8v1.2M746.8 505.8v3.3M747.8 505.8v2.5M749.8 505.8v1.7M750.8 505.8v3.2M752.8 505.8v2.8M753.8 505.8v3.7M756.8 505.8v2.7M758.8 505.8v3.2M759.8 505.8v3.2M760.8 505.8v2.5M761.8 505.8v2.2M763.8 505.8v1.7M764.8 505.8v2.9M769.8 505.8v2.6M770.8 505.8v1.2M771.8 505.8v3.7M772.8 505.8v3.2M774.8 505.8v2.6M777.8 505.8v3.6M782.8 505.8v2.6M783.8 505.8v3.4M784.8 505.8v3.8M785.8 505.8v2.3M787.8 505.8v2.8M788.8 505.8v3.5M789.8 505.8v3.5M793.8 505.8v2.7M794.8 505.8v3.1M796.8 505.8v2.4M797.8 505.8v2.9M799.8 505.8v2.8M801.8 505.8v3.6M802.8 505.8v1.2M803.8 505.8v3.2M804.8 505.8v3.4M805.8 505.8v1.4M807.8 505.8v1.5M808.8 505.8v2.0M809.8 505.8v2.5M811.8 505.8v1.2M813.8 505.8v3.1M817.8 505.8v1.8M818.8 505.8v3.8M820.8 505.8v2.8M821.8 505.8v2.1M822.8 505.8v3.8M823.8 505.8v2.4M824.8 505.8v3.4M825.8 505.8v3.4M826.8 505.8v1.8M827.8 505.8v2.1M829.8 505.8v2.1M831.8 505.8v3.2M834.8 505.8v3.2M838.8 505.8v3.0M840.8 505.8v3.2M841.8 505.8v2.2M846.8 505.8v2.3M847.8 505.8v2.4M848.8 505.8v2.2M850.8 505.8v3.5M852.8 505.8v3.6M854.8 505.8v2.7M856.8 505.8v2.1M857.8 505.8v3.5M862.8 505.8v2.6M863.8 505.8v2.1M866.8 505.8v1.4M868.8 505.8v2.4M869.8 505.8v2.2M870.8 505.8v1.8M871.8 505.8v1.5M872.8 505.8v3.1M873.8 505.8v3.4M874.8 505.8v1.8M876.8 505.8v2.2M877.8 505.8v1.7M879.8 505.8v2.3M881.8 505.8v1.6M884.8 505.8v3.4M597.8 522.4v-2.4M600.8 522.4v-3.8M601.8 522.4v-1.9M602.8 522.4v-2.7M603.8 522.4v-2.4M605.8 522.4v-2.3M608.8 522.4v-2.1M609.8 522.4v-1.9M610.8 522.4v-3.6M611.8 522.4v-3.4M613.8 522.4v-2.1M614.8 522.4v-2.6M616.8 522.4v-1.9M618.8 522.4v-2.7M620.8 522.4v-2.0M622.8 522.4v-2.9M626.8 522.4v-1.9M630.8 522.4v-1.4M631.8 522.4v-1.3M632.8 522.4v-2.0M633.8 522.4v-3.6M634.8 522.4v-2.1M637.8 522.4v-3.7M638.8 522.4v-3.3M639.8 522.4v-2.9M641.8 522.4v-2.7M645.8 522.4v-1.6M647.8 522.4v-2.1M649.8 522.4v-1.7M651.8 522.4v-3.6M652.8 522.4v-3.2M653.8 522.4v-3.8M655.8 522.4v-2.2M656.8 522.4v-2.4M659.8 522.4v-2.9M661.8 522.4v-1.9M662.8 522.4v-2.8M663.8 522.4v-1.7M664.8 522.4v-3.0M666.8 522.4v-1.6M667.8 522.4v-1.4M669.8 522.4v-3.4M670.8 522.4v-1.9M671.8 522.4v-2.2M674.8 522.4v-1.5M675.8 522.4v-3.2M676.8 522.4v-3.8M678.8 522.4v-1.2M680.8 522.4v-2.9M681.8 522.4v-2.3M683.8 522.4v-3.2M685.8 522.4v-1.9M687.8 522.4v-1.6M691.8 522.4v-1.5M692.8 522.4v-1.5M693.8 522.4v-3.7M695.8 522.4v-2.2M696.8 522.4v-1.6M697.8 522.4v-1.7M698.8 522.4v-1.3M701.8 522.4v-2.3M704.8 522.4v-3.6M706.8 522.4v-2.7M708.8 522.4v-3.8M709.8 522.4v-2.9M710.8 522.4v-2.2M712.8 522.4v-3.7M713.8 522.4v-2.7M715.8 522.4v-3.0M718.8 522.4v-2.1M720.8 522.4v-2.4M723.8 522.4v-1.8M724.8 522.4v-2.5M725.8 522.4v-3.6M726.8 522.4v-2.4M728.8 522.4v-1.4M729.8 522.4v-3.0M730.8 522.4v-3.7M731.8 522.4v-2.0M732.8 522.4v-2.1M733.8 522.4v-1.5M734.8 522.4v-3.1M735.8 522.4v-3.8M737.8 522.4v-2.2M738.8 522.4v-1.4M739.8 522.4v-2.6M741.8 522.4v-1.3M743.8 522.4v-3.1M745.8 522.4v-1.7M747.8 522.4v-2.5M748.8 522.4v-2.7M749.8 522.4v-1.7M750.8 522.4v-3.6M752.8 522.4v-2.0M753.8 522.4v-2.1M754.8 522.4v-3.7M755.8 522.4v-2.1M756.8 522.4v-2.8M757.8 522.4v-3.1M758.8 522.4v-1.6M760.8 522.4v-3.0M762.8 522.4v-3.2M764.8 522.4v-3.6M765.8 522.4v-2.5M767.8 522.4v-3.5M768.8 522.4v-2.9M769.8 522.4v-3.0M773.8 522.4v-2.9M776.8 522.4v-2.6M777.8 522.4v-3.7M779.8 522.4v-2.8M780.8 522.4v-2.6M785.8 522.4v-2.5M786.8 522.4v-1.3M790.8 522.4v-2.8M791.8 522.4v-2.0M794.8 522.4v-3.2M797.8 522.4v-2.1M799.8 522.4v-1.6M800.8 522.4v-1.6M801.8 522.4v-1.6M802.8 522.4v-1.5M803.8 522.4v-2.1M804.8 522.4v-1.7M805.8 522.4v-1.4M806.8 522.4v-1.3M808.8 522.4v-2.4M809.8 522.4v-3.0M812.8 522.4v-1.7M813.8 522.4v-3.5M814.8 522.4v-3.2M817.8 522.4v-2.3M818.8 522.4v-2.9M819.8 522.4v-3.0M820.8 522.4v-3.4M822.8 522.4v-2.3M823.8 522.4v-3.6M824.8 522.4v-2.2M825.8 522.4v-2.8M826.8 522.4v-2.9M827.8 522.4v-1.9M828.8 522.4v-1.4M830.8 522.4v-3.5M834.8 522.4v-2.4M835.8 522.4v-2.1M836.8 522.4v-2.7M841.8 522.4v-2.7M842.8 522.4v-3.4M844.8 522.4v-2.0M846.8 522.4v-1.4M848.8 522.4v-1.5M850.8 522.4v-1.7M851.8 522.4v-1.8M852.8 522.4v-2.4M855.8 522.4v-3.4M858.8 522.4v-3.3M863.8 522.4v-3.6M865.8 522.4v-2.6M866.8 522.4v-1.8M868.8 522.4v-1.2M872.8 522.4v-2.0M873.8 522.4v-3.6M875.8 522.4v-2.4M878.8 522.4v-2.6M879.8 522.4v-1.4M880.8 522.4v-2.5M881.8 522.4v-3.5M882.8 522.4v-1.2" stroke="#5e2a70" stroke-width="1" fill="none" opacity="0.55"/>
<path d="M307 449V506M596 449V506" stroke="#c0b0c8" stroke-width="1"/>
<rect x="159.6" y="8.15" width="728.8" height="583.1" fill="none" stroke="#2b2b2b" stroke-width="3"/>
<path d="M303.4,8.5 L311.2,8.5 L307.1,15.2 Z" fill="#d9a066"/>
<path d="M520.5,9 L528.5,9 L524.4,15 Z" fill="none" stroke="#cdbf98" stroke-width="1"/>
<g fill="#2e2e2e">
<text x="93.25" y="206" font-weight="bold" font-size="25" xml:space="preserve">V</text><text x="109.5" y="211.5" font-weight="normal" font-size="17" letter-spacing="-0.5" stroke="#2e2e2e" stroke-width="0.7" xml:space="preserve">OUT</text><text x="11.75" y="235" font-weight="bold" font-size="24" letter-spacing="0.125" xml:space="preserve">100</text><text x="58.5" y="235" font-weight="bold" font-size="24" letter-spacing="1.4" xml:space="preserve">mV/div</text><text x="8.0" y="263.6" font-weight="bold" font-size="24" letter-spacing="0.5" xml:space="preserve">AC</text><text x="48.0" y="263.6" font-weight="bold" font-size="24" letter-spacing="0.25" xml:space="preserve">Coupled</text><text x="27.9" y="468.1" font-weight="bold" font-size="24" letter-spacing="0.067" xml:space="preserve">Load</text><text x="90.0" y="468.1" font-weight="bold" font-size="24" letter-spacing="1.033" xml:space="preserve">Step</text><text x="60.35" y="497.2" font-weight="bold" font-size="24" xml:space="preserve">1</text><text x="80.9" y="497.2" font-weight="bold" font-size="24" letter-spacing="1.225" xml:space="preserve">A/div</text><text x="467.9" y="626.1" font-weight="bold" font-size="24" letter-spacing="1.3" xml:space="preserve">50</text><text x="502.6" y="626.1" font-weight="bold" font-size="24" letter-spacing="0.62" xml:space="preserve">µs/div</text><text x="161.25" y="657" font-weight="bold" font-size="24" xml:space="preserve">V</text><text x="176.5" y="662.5" font-weight="normal" font-size="17" letter-spacing="1.5" stroke="#2e2e2e" stroke-width="0.7" xml:space="preserve">IN</text><text x="201.5" y="657" font-weight="bold" font-size="24" xml:space="preserve">=</text><text x="222.5" y="657" font-weight="bold" font-size="24" letter-spacing="-0.5" xml:space="preserve">12</text><text x="256.5" y="657" font-weight="bold" font-size="24" letter-spacing="2.2" xml:space="preserve">V,</text><text x="287.75" y="657" font-weight="bold" font-size="24" xml:space="preserve">V</text><text x="303.5" y="662.5" font-weight="normal" font-size="17" stroke="#2e2e2e" stroke-width="0.7" xml:space="preserve">OUT</text><text x="346.4" y="657" font-weight="bold" font-size="24" xml:space="preserve">=</text><text x="367.3" y="657" font-weight="bold" font-size="24" letter-spacing="-1.0" xml:space="preserve">3.3</text><text x="406.7" y="657" font-weight="bold" font-size="24" letter-spacing="2.2" xml:space="preserve">V,</text><text x="160.25" y="686" font-weight="bold" font-size="24" xml:space="preserve">f</text><text x="167.5" y="691.3" font-weight="normal" font-size="17" letter-spacing="-1.0" stroke="#2e2e2e" stroke-width="0.7" xml:space="preserve">SW</text><text x="201.5" y="686" font-weight="bold" font-size="24" xml:space="preserve">=</text><text x="222.25" y="686" font-weight="bold" font-size="24" xml:space="preserve">2</text><text x="243.0" y="686" font-weight="bold" font-size="24" letter-spacing="1.167" xml:space="preserve">MHz,</text><text x="308.5" y="686" font-weight="bold" font-size="24" letter-spacing="-0.383" xml:space="preserve">IO_STEP</text><text x="414.1" y="686" font-weight="bold" font-size="24" xml:space="preserve">=</text><text x="435.25" y="686" font-weight="bold" font-size="24" xml:space="preserve">0</text><text x="455.5" y="686" font-weight="bold" font-size="24" xml:space="preserve">A</text><text x="479.4" y="686" font-weight="bold" font-size="24" letter-spacing="1.4" xml:space="preserve">to</text><text x="510.1" y="686" font-weight="bold" font-size="24" xml:space="preserve">1</text><text x="531.0" y="686" font-weight="bold" font-size="24" xml:space="preserve">A</text><text x="716.2" y="690.3" font-weight="normal" font-size="19" letter-spacing="0.144" fill="#c9dcc2" xml:space="preserve">www.cntronics.com</text>
</g>
</svg>
</body></html>
